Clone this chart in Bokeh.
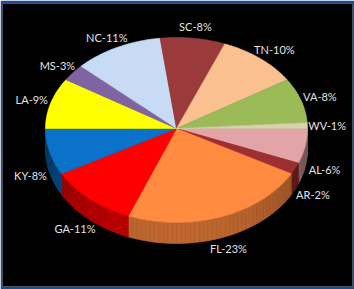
import numpy as np
from bokeh.plotting import figure
from bokeh.models import Range1d
from bokeh.embed import file_html
from bokeh.resources import INLINE
from bokeh.core.properties import value

# ---- data (clockwise from 3 o'clock) ----
states = ["AL", "AR", "FL", "GA", "KY", "LA", "MS", "NC", "SC", "TN", "VA", "WV"]
shares = [6, 2, 23, 11, 8, 9, 3, 11, 8, 10, 8, 1]
colors = ["#E2A4A6", "#9E2F30", "#FF8A40", "#FF0000", "#0A72C8", "#FFFF00",
          "#7F63A3", "#C8DBF5", "#9A3A3A", "#FAC08F", "#9BBB59", "#D8D1AA"]
labels = [f"{s}-{v}%" for s, v in zip(states, shares)]

# ---- geometry (screen-like data units) ----
cx, cy, rx, ry_back, ry_front, depth = 176.0, 128.0, 131.0, 91.0, 94.0, 21.0


def ex(t):
    return cx + rx * np.cos(t)


def ey(t):
    s = np.sin(t)
    return cy - np.where(s > 0, ry_back, ry_front) * s


def shade(hexc, k):
    h = hexc.lstrip("#")
    r, g, b = (int(h[i:i + 2], 16) for i in (0, 2, 4))
    return "#%02x%02x%02x" % (int(r * k), int(g * k), int(b * k))


vals = np.array(shares, dtype=float)
frac = vals / vals.sum()
end_f = np.cumsum(frac)
start_f = end_f - frac
th_start = -2 * np.pi * start_f
th_end = -2 * np.pi * end_f

W, H = 354, 289
bl, br, bt, bb = 2, 2, 3, 3
p = figure(width=W, height=H, output_backend="svg", toolbar_location=None,
           x_range=Range1d(bl, W - br), y_range=Range1d(H - bb, bt),
           x_axis_location=None, y_axis_location=None,
           min_border_left=bl, min_border_right=br, min_border_top=bt, min_border_bottom=bb,
           background_fill_color="black", border_fill_color="#1C4E8A")
p.grid.visible = False
p.outline_line_color = None

# ---- side faces (front half) ----
sx, sy, sc = [], [], []
for a, b, c in zip(th_start, th_end, colors):
    hi = min(a, 0.0)
    lo = max(b, -np.pi)
    if hi <= lo:
        continue
    n = max(2, int(np.ceil((hi - lo) / np.radians(2))) + 1)
    ts = np.linspace(hi, lo, n)
    for t0, t1 in zip(ts[:-1], ts[1:]):
        xa, xb = ex(t0), ex(t1)
        ya, yb = float(ey(t0)), float(ey(t1))
        sx.append([xa, xb, xb, xa])
        sy.append([ya, yb, yb + depth, ya + depth])
        k = 0.5 + 0.25 * (-np.sin(0.5 * (t0 + t1)))
        sc.append(shade(c, k))
p.patches(sx, sy, fill_color=sc, line_color=sc, line_width=0.6)

# ---- top faces ----
tx, ty = [], []
for a, b in zip(th_start, th_end):
    n = max(3, int(np.ceil((a - b) / np.radians(1.5))) + 1)
    ts = np.linspace(a, b, n)
    tx.append([cx] + list(ex(ts)))
    ty.append([cy] + list(ey(ts)))
p.patches(tx, ty, fill_color=colors, line_color=colors, line_width=0.6)

# ---- labels ----
gap, ch, fh = 6.0, 5.5, 11.0
lx, ly = [], []
for a, b, lab in zip(th_start, th_end, labels):
    m = 0.5 * (a + b)
    c, s = np.cos(m), np.sin(m)
    ry = ry_back if s > 0 else ry_front
    px = cx + (rx + gap) * c
    py = cy - (ry + gap) * s
    w = ch * len(lab)
    x = px + c * w / 2
    y = py - s * fh / 2 + (depth if s < 0 else 0.0)
    lx.append(x)
    ly.append(y)
p.text(lx, ly, text=labels, text_align="center", text_baseline="middle",
       text_font=value("Lato"), text_font_size="11px", text_color="#E2E2E2")

open("out.html", "w").write(file_html(p, INLINE))
